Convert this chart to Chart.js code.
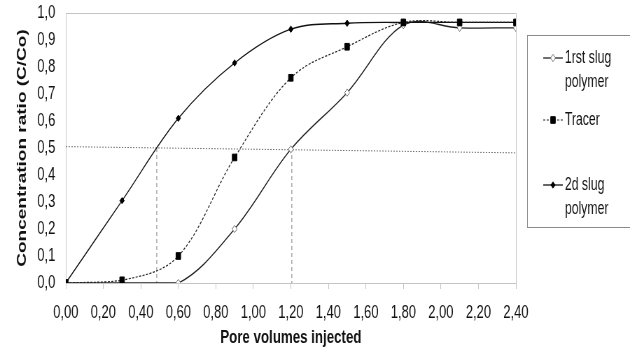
<!DOCTYPE html>
<html>
<head>
<meta charset="utf-8">
<script src="https://cdn.jsdelivr.net/npm/chart.js@4.4.1/dist/chart.umd.min.js"></script>
<style>
  html, body { margin: 0; padding: 0; background: #fff; overflow: hidden; }
  /* the source image is squeezed sideways, so the whole chart is drawn wide and squeezed */
  #wrap { position: absolute; left: 0; top: 0; width: 900px; height: 352px; transform: scaleX(0.7); transform-origin: 0 0; }
</style>
</head>
<body>
<div id="wrap"><canvas id="breakthrough-chart" width="900" height="352"></canvas></div>
<script>
// pore volumes injected
var poreVolumes = [0, 0.3, 0.6, 0.9, 1.2, 1.5, 1.8, 2.1, 2.4];
// C/Co for each run
var firstSlug = [0, 0, 0, 0.2, 0.495, 0.705, 0.955, 0.945, 0.945];
var tracer = [0, 0.01, 0.1, 0.465, 0.76, 0.875, 0.965, 0.965, 0.965];
var secondSlug = [0, 0.305, 0.61, 0.815, 0.94, 0.962, 0.965, 0.965, 0.965];
// helper lines at C/Co = 0.5
var halfLineX = [0, 2.4];
var halfLineY = [0.505, 0.482];
var dropX = [0.485, 1.205];
var dropY = [0.5, 0];

var xTicks = { min: 0, max: 2.4, step: 0.2 };
var yTicks = { min: 0, max: 1, step: 0.1 };

function pts(xs, ys) {
    return xs.map(function (x, i) { return { x: x, y: ys[i] }; });
}

var W = 900;
var axisGrey = '#c4c4c4';
var font = 'Liberation Sans, Arial, sans-serif';

//frame around the plot + legend box
var framePlugin = {
    id: 'frame',
    afterDraw: function (chart) {
        var ctx = chart.ctx;
        var a = chart.chartArea;
        ctx.save();
        ctx.strokeStyle = axisGrey;
        ctx.lineWidth = 1;
        ctx.beginPath();
        ctx.moveTo(a.left, a.top + 0.5);
        ctx.lineTo(a.right + 0.5, a.top + 0.5);
        ctx.lineTo(a.right + 0.5, a.bottom);
        ctx.stroke();

        // legend
        var bx = 753, by = 35, bb = 227;
        var mx = 790;
        ctx.strokeStyle = '#8a8a8a';
        ctx.strokeRect(bx + 0.5, by + 0.5, chart.width, bb - by);

        var rows = [
            { ds: chart.data.datasets[2], lines: ['1rst slug', 'polymer'], y: 58 },
            { ds: chart.data.datasets[0], lines: ['Tracer'], y: 120 },
            { ds: chart.data.datasets[1], lines: ['2d slug', 'polymer'], y: 185 }
        ];
        ctx.font = '17.5px ' + font;
        ctx.textBaseline = 'middle';
        rows.forEach(function (r) {
            ctx.save();
            ctx.strokeStyle = r.ds.borderColor;
            ctx.lineWidth = r.ds.borderWidth;
            ctx.setLineDash(r.ds.borderDash || []);
            ctx.beginPath();
            ctx.moveTo(776, r.y);
            ctx.lineTo(804, r.y);
            ctx.stroke();
            ctx.restore();
            ctx.fillStyle = r.ds.pointBackgroundColor;
            ctx.strokeStyle = r.ds.pointBorderColor;
            ctx.lineWidth = r.ds.pointBorderWidth;
            ctx.beginPath();
            var s = r.ds.pointStyle, rad = r.ds.pointRadius;
            if (s === 'rect') {
                var h = rad * Math.SQRT1_2;
                ctx.rect(mx - h, r.y - h, 2 * h, 2 * h);
            } else {
                ctx.moveTo(mx - rad, r.y);
                ctx.lineTo(mx, r.y - rad);
                ctx.lineTo(mx + rad, r.y);
                ctx.lineTo(mx, r.y + rad);
                ctx.closePath();
            }
            ctx.fill();
            ctx.stroke();
            ctx.fillStyle = '#111';
            r.lines.forEach(function (t, i) {
                ctx.fillText(t, 807, r.y + i * 24);
            });
        });
        ctx.restore();
    }
};

var ctx = document.getElementById('breakthrough-chart');
var chart = new Chart(ctx, {
    type: 'line',
    data: {
        datasets: [{
            label: 'Tracer',
            data: pts(poreVolumes, tracer),
            borderColor: '#222',
            borderWidth: 1.2,
            borderDash: [3, 2],
            pointStyle: 'rect',
            pointRadius: 4.7,
            pointBackgroundColor: '#000',
            pointBorderColor: '#000',
            pointBorderWidth: 1,
            tension: 0.35
        }, {
            label: '2d slug polymer',
            data: pts(poreVolumes, secondSlug),
            borderColor: '#111',
            borderWidth: 1.3,
            pointStyle: 'rectRot',
            pointRadius: 3.2,
            pointBackgroundColor: '#000',
            pointBorderColor: '#000',
            pointBorderWidth: 1,
            tension: 0.35
        }, {
            label: '1rst slug polymer',
            data: pts(poreVolumes, firstSlug),
            borderColor: '#222',
            borderWidth: 1.3,
            pointStyle: 'rectRot',
            pointRadius: 3.6,
            pointBackgroundColor: '#fff',
            pointBorderColor: '#666',
            pointBorderWidth: 1,
            tension: 0.35
        }, {
            label: 'half',
            data: pts(halfLineX, halfLineY),
            borderColor: '#6e6e6e',
            borderWidth: 1,
            borderDash: [2, 2],
            pointRadius: 0,
            tension: 0
        }, {
            label: 'drop1',
            data: pts([dropX[0], dropX[0]], dropY),
            borderColor: '#9a9a9a',
            borderWidth: 1.3,
            borderDash: [4, 3],
            pointRadius: 0,
            tension: 0
        }, {
            label: 'drop2',
            data: pts([dropX[1], dropX[1]], dropY),
            borderColor: '#9a9a9a',
            borderWidth: 1.3,
            borderDash: [4, 3],
            pointRadius: 0,
            tension: 0
        }]
    },
    options: {
        responsive: false,
        animation: false,
        devicePixelRatio: 1,
        layout: { padding: { left: 0, top: 13, right: W - 737, bottom: 0 } },
        plugins: {
            legend: { display: false },
            tooltip: { enabled: false }
        },
        scales: {
            x: {
                type: 'linear',
                min: xTicks.min,
                max: xTicks.max,
                afterFit: function (scale) { scale.height = 352 - 283; },
                afterBuildTicks: function (scale) {
                    var t = [];
                    for (var i = 0; i <= 12; i++) t.push({ value: +(xTicks.min + i * xTicks.step).toFixed(2) });
                    scale.ticks = t;
                },
                ticks: {
                    color: '#111',
                    font: { family: font, size: 18.5 },
                    padding: 13,
                    maxRotation: 0,
                    autoSkip: false,
                    callback: function (v) { return v.toFixed(2).replace('.', ','); }
                },
                grid: { drawOnChartArea: false, drawTicks: true, tickLength: 6, color: axisGrey },
                border: { color: axisGrey },
                title: {
                    display: true,
                    text: 'Pore volumes injected',
                    color: '#111',
                    font: { family: font, size: 19, weight: 'bold' },
                    padding: { top: 0, bottom: 3 }
                }
            },
            y: {
                min: yTicks.min,
                max: yTicks.max,
                afterFit: function (scale) {
                    scale.width = 94;
                    scale.paddingTop = 6;
                    scale.paddingBottom = 6;
                },
                afterBuildTicks: function (scale) {
                    var t = [];
                    for (var i = 0; i <= 10; i++) t.push({ value: +(yTicks.min + i * yTicks.step).toFixed(1) });
                    scale.ticks = t;
                },
                ticks: {
                    color: '#111',
                    font: { family: font, size: 18.5 },
                    padding: 15,
                    callback: function (v) { return v.toFixed(1).replace('.', ','); }
                },
                grid: { display: false, drawTicks: false },
                border: { color: axisGrey },
                title: {
                    display: true,
                    text: 'Concentration ratio (C/Co)',
                    color: '#111',
                    font: { family: font, size: 19, weight: 'bold' },
                    padding: { top: 20, bottom: 0 }
                }
            }
        }
    },
    plugins: [framePlugin]
});
</script>
</body>
</html>
